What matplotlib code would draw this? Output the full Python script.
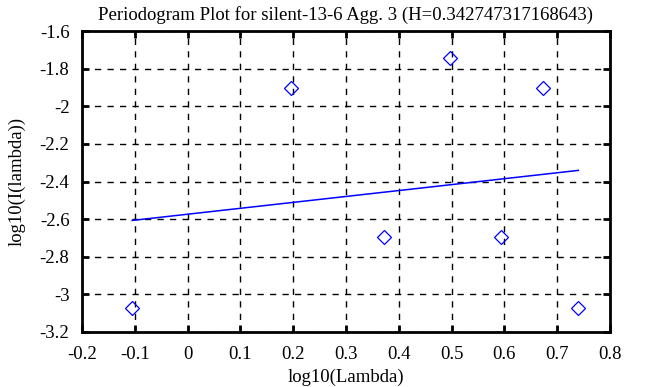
import matplotlib
matplotlib.use("Agg")
import matplotlib.pyplot as plt

plt.rcParams['font.family'] = ['Liberation Serif', 'DejaVu Serif']
plt.rcParams['axes.unicode_minus'] = False

# periodogram points (log10 frequency vs log10 intensity)
log_lambda = [-0.105, 0.196, 0.372, 0.497, 0.594, 0.673, 0.740]
log_I = [-3.073, -1.905, -2.693, -1.743, -2.693, -1.905, -3.073]

# fitted line end points
fit_x = [-0.105, 0.740]
fit_y = [-2.607, -2.341]

xticks = [-0.2, -0.1, 0, 0.1, 0.2, 0.3, 0.4, 0.5, 0.6, 0.7, 0.8]
xticklabels = ['-0.2', '-0.1', '0', '0.1', '0.2', '0.3', '0.4', '0.5', '0.6', '0.7', '0.8']
yticks = [-3.2, -3, -2.8, -2.6, -2.4, -2.2, -2, -1.8, -1.6]
yticklabels = ['-3.2', '-3', '-2.8', '-2.6', '-2.4', '-2.2', '-2', '-1.8', '-1.6']

fig = plt.figure(figsize=(6.58, 3.87), dpi=100)
ax = fig.add_axes([82/658, 1 - 332/387, 528/658, 301/387])

ax.plot(log_lambda, log_I, 'D', markerfacecolor='none', markeredgecolor='blue',
        markersize=7, markeredgewidth=0.9)
ax.plot(fit_x, fit_y, color='blue', linewidth=1.1)

ax.set_xlim(-0.2, 0.8)
ax.set_ylim(-3.2, -1.6)
ax.set_xticks(xticks)
ax.set_xticklabels(xticklabels)
ax.set_yticks(yticks)
ax.set_yticklabels(yticklabels)
ax.grid(True, color='black', linestyle=(0, (4.5, 4.5)), linewidth=1)
ax.tick_params(direction='in', length=5, width=2, top=True, right=True,
               labelsize=13.5)
ax.tick_params(axis='x', pad=10)
ax.tick_params(axis='y', pad=9)
for s in ax.spines.values():
    s.set_linewidth(2)

ax.set_title("Periodogram Plot for silent-13-6 Agg. 3 (H=0.342747317168643)",
             fontsize=13.5, pad=8)
ax.set_xlabel("log10(Lambda)", fontsize=13.5, labelpad=4)
ax.set_ylabel("log10(I(lambda))", fontsize=13.5, labelpad=10)

fig.savefig("out.png", dpi=100)
